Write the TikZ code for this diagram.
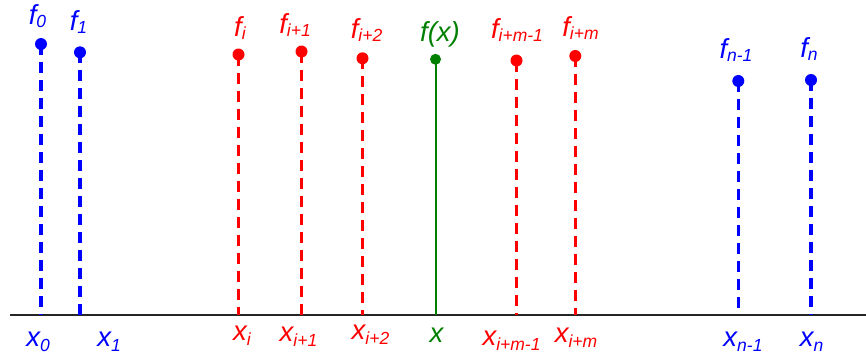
\documentclass[tikz,border=0pt]{standalone}
\usepackage{fontspec}
\setmainfont{Liberation Sans}
\definecolor{cblue}{RGB}{0,0,255}
\definecolor{cred}{RGB}{255,0,0}
\definecolor{cgreen}{RGB}{0,128,0}
\newcommand{\fsb}[1]{\raisebox{-3pt}{\fontsize{17.5}{17.5}\selectfont #1}}
\newcommand{\xsb}[1]{\raisebox{-5pt}{\fontsize{17.5}{17.5}\selectfont #1}}
\tikzset{
  lbl/.style={inner sep=0pt, anchor=base, font=\fontsize{27.5}{27.5}\selectfont\itshape},
  dot/.style={circle, fill, inner sep=0pt, minimum size=12pt},
  dstem/.style={line width=3.6pt, dash pattern=on 11pt off 7pt},
  sstem/.style={line width=2pt},
  axisline/.style={line width=2pt, black!85}
}
\begin{document}
\begin{tikzpicture}[x=1pt,y=-1pt]
\useasboundingbox (0,0) rectangle (866,360);
% axis
\coordinate (axL) at (10,315);
\coordinate (axR) at (866,315);
\draw[axisline] (axL) -- (axR);
% feet
\coordinate (b0) at (41,315);
\coordinate (b1) at (80,315);
\coordinate (bi) at (238.5,315);
\coordinate (bi1) at (301.5,315);
\coordinate (bi2) at (362.5,315);
\coordinate (bx) at (435.5,315);
\coordinate (bm1) at (516.5,315);
\coordinate (bm) at (575.3,315);
\coordinate (bn1) at (738.3,315);
\coordinate (bn) at (811,315);
% dots
\node[dot, cblue] (d0) at (41,44) {};
\node[dot, cblue] (d1) at (80,52.3) {};
\node[dot, cred] (di) at (238.5,54.5) {};
\node[dot, cred] (di1) at (301.5,51.5) {};
\node[dot, cred] (di2) at (362.5,58.3) {};
\node[dot, cgreen, minimum size=11pt] (dx) at (435.5,59.3) {};
\node[dot, cred] (dm1) at (516.5,60.5) {};
\node[dot, cred] (dm) at (575.3,56) {};
\node[dot, cblue] (dn1) at (738.3,81) {};
\node[dot, cblue] (dn) at (811,80) {};
% stems
\draw[dstem, cblue] (d0.center) -- (b0);
\draw[dstem, cblue] (d1.center) -- (b1);
\draw[dstem, cred] (di.center) -- (bi);
\draw[dstem, cred] (di1.center) -- (bi1);
\draw[dstem, cred] (di2.center) -- (bi2);
\draw[sstem, cgreen] (dx.center) -- (bx);
\draw[dstem, cred] (dm1.center) -- (bm1);
\draw[dstem, cred] (dm.center) -- (bm);
\draw[dstem, cblue] (dn1.center) -- (bn1);
\draw[dstem, cblue] (dn.center) -- (bn);
% top labels
\node[lbl, cblue] (f0) at (37.5,24) {f\fsb{0}};
\node[lbl, cblue] (f1) at (78.5,30) {f\fsb{1}};
\node[lbl, cred] (fi) at (240,36) {f\fsb{i}};
\node[lbl, cred] (fi1) at (295,33) {f\fsb{i+1}};
\node[lbl, cred] (fi2) at (366.5,38) {f\fsb{i+2}};
\node[lbl, cgreen] (fx) at (440,41.5) {f(x)};
\node[lbl, cred] (fm1) at (517,38.5) {f\fsb{i+m-1}};
\node[lbl, cred] (fm) at (580.5,36) {f\fsb{i+m}};
\node[lbl, cblue] (fn1) at (736,58) {f\fsb{n-1}};
\node[lbl, cblue] (fn) at (809,57) {f\fsb{n}};
% bottom labels
\node[lbl, cblue] (x0) at (38,346.5) {x\xsb{0}};
\node[lbl, cblue] (x1) at (109,346.5) {x\xsb{1}};
\node[lbl, cred] (xi) at (242,340.7) {x\xsb{i}};
\node[lbl, cred] (xi1) at (298.5,341.7) {x\xsb{i+1}};
\node[lbl, cred] (xi2) at (370.5,339) {x\xsb{i+2}};
\node[lbl, cgreen] (xx) at (436.5,342.3) {x};
\node[lbl, cred] (xm1) at (511.5,345) {x\xsb{i+m-1}};
\node[lbl, cred] (xm) at (576,342.3) {x\xsb{i+m}};
\node[lbl, cblue] (xn1) at (743,346) {x\xsb{n-1}};
\node[lbl, cblue] (xn) at (811.5,346) {x\xsb{n}};
\end{tikzpicture}
\end{document}
